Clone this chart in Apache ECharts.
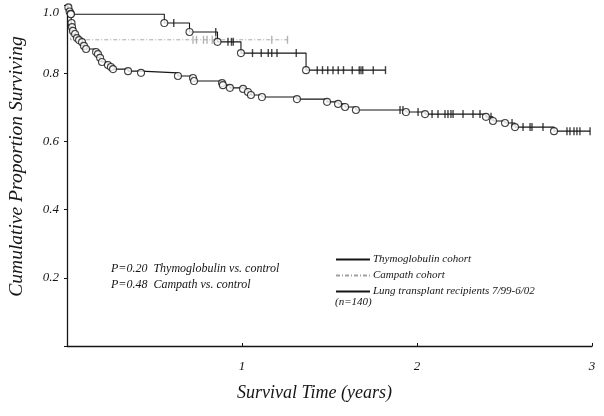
<!DOCTYPE html>
<html>
<head>
<meta charset="utf-8">
<script src="https://cdn.jsdelivr.net/npm/echarts@6/dist/echarts.min.js"></script>
<style>
html,body{margin:0;padding:0;background:#fff;}
#main{width:604px;height:416px;}
</style>
</head>
<body>
<div id="main"></div>
<script>
// ---- Data ----
var xTicks = [1, 2, 3];
var yTicks = [0.2, 0.4, 0.6, 0.8, 1.0];

// Lung transplant recipients 7/99-6/02 (n=140): deaths [time, survival after drop]
var lungDeaths = [
  [0.008, 0.993], [0.015, 0.981], [0.022, 0.974], [0.026, 0.947], [0.029, 0.935],
  [0.034, 0.924], [0.046, 0.915], [0.057, 0.903], [0.069, 0.897], [0.086, 0.891],
  [0.097, 0.880], [0.109, 0.871], [0.166, 0.862], [0.177, 0.856], [0.189, 0.845],
  [0.200, 0.833], [0.234, 0.824], [0.251, 0.818], [0.263, 0.812], [0.349, 0.806],
  [0.423, 0.801], [0.634, 0.792], [0.720, 0.786], [0.726, 0.777], [0.886, 0.771],
  [0.891, 0.765], [0.931, 0.757], [1.006, 0.754], [1.034, 0.745], [1.051, 0.736],
  [1.114, 0.730], [1.314, 0.724], [1.486, 0.716], [1.549, 0.710], [1.589, 0.701],
  [1.651, 0.692], [1.937, 0.686], [2.046, 0.680], [2.394, 0.672], [2.434, 0.660],
  [2.503, 0.654], [2.560, 0.642], [2.783, 0.630]
];
var lungCensored = [1.903, 1.920, 2.006, 2.086, 2.120, 2.160, 2.177, 2.194, 2.206,
  2.263, 2.320, 2.360, 2.423, 2.543, 2.606, 2.646, 2.657, 2.720,
  2.857, 2.874, 2.897, 2.914, 2.931, 2.989];

// Thymoglobulin cohort
var thymoDeaths = [[0.022, 0.973], [0.556, 0.947], [0.700, 0.921], [0.860, 0.892], [0.994, 0.859], [1.366, 0.809]];
var thymoCensored = [0.61, 0.85, 0.92, 0.94, 0.95, 1.06, 1.11, 1.15, 1.17, 1.20, 1.31,
  1.43, 1.46, 1.49, 1.52, 1.55, 1.58, 1.63, 1.67, 1.68, 1.69, 1.75, 1.82];

// Campath cohort
var campathDeaths = [[0.02, 0.898]];
var campathCensored = [0.72, 0.74, 0.78, 0.80, 0.83, 0.85, 1.17, 1.26];

var legendNames = ['Thymoglobulin cohort', 'Campath cohort', 'Lung transplant recipients 7/99-6/02'];
var pTexts = ['P=0.20  Thymoglobulin vs. control', 'P=0.48  Campath vs. control'];
var nText = '(n=140)';

// ---- helpers ----
function survAt(deaths, t) {
  var s = 1;
  for (var i = 0; i < deaths.length; i++) { if (deaths[i][0] <= t) s = deaths[i][1]; }
  return s;
}
function curve(deaths, censored) {
  var pts = [[0, 1]].concat(deaths);
  var last = censored.length ? censored[censored.length - 1] : 0;
  var lastD = deaths[deaths.length - 1][0];
  if (last > lastD) pts.push([last, survAt(deaths, last)]);
  return pts;
}
function censPts(deaths, censored) {
  return censored.map(function (t) { return [t, survAt(deaths, t)]; });
}

var FONT = '"Liberation Serif", "DejaVu Serif", serif';
var black = '#151515';
var gray = '#a0a0a0';

function lineSeries(name, data, color, type, width) {
  return { name: name, type: 'line', step: 'end', data: data, symbol: 'none',
    lineStyle: { color: color, width: width, type: type }, itemStyle: { color: color },
    z: 2, animation: false };
}
function circleSeries(data) {
  return { type: 'scatter', data: data, symbol: 'circle', symbolSize: 7,
    itemStyle: { color: '#fff', borderColor: black, borderWidth: 1.1 }, z: 4, animation: false };
}
function censSeries(data, color) {
  return { type: 'scatter', data: data, symbol: 'rect', symbolSize: [1.4, 8],
    itemStyle: { color: color }, z: 3, animation: false };
}

var chart = echarts.init(document.getElementById('main'), null, { renderer: 'canvas' });
chart.setOption({
  backgroundColor: '#fff',
  animation: false,
  grid: { left: 67, right: 12, top: 5, bottom: 70, containLabel: false, outerBoundsMode: 'none' },
  xAxis: {
    type: 'value', min: 0, max: 3, interval: 1,
    name: 'Survival Time (years)', nameLocation: 'middle', nameGap: 38,
    nameTextStyle: { fontFamily: FONT, fontStyle: 'italic', fontSize: 18, color: black, padding: [0, 30, 0, 0] },
    axisLine: { lineStyle: { color: black, width: 1.3 } },
    axisTick: { inside: true, length: 3, lineStyle: { color: black } },
    axisLabel: { fontFamily: FONT, fontStyle: 'italic', fontSize: 13, color: black, margin: 14,
      formatter: function (v) { return xTicks.indexOf(v) >= 0 ? String(v) : ''; } },
    splitLine: { show: false }
  },
  yAxis: {
    type: 'value', min: 0, max: 1, interval: 0.2,
    name: 'Cumulative Proportion Surviving', nameLocation: 'middle', nameGap: 40,
    nameTextStyle: { fontFamily: FONT, fontStyle: 'italic', fontSize: 19.5, color: black, padding: [0, 0, 0, 18] },
    axisLine: { lineStyle: { color: black, width: 1.3 } },
    axisTick: { length: 3, lineStyle: { color: black } },
    axisLabel: { fontFamily: FONT, fontStyle: 'italic', fontSize: 13, color: black, margin: 8,
      formatter: function (v) {
        var r = Math.round(v * 10) / 10;
        if (yTicks.indexOf(r) < 0) return '';
        return r === 1 ? '{top|' + r.toFixed(1) + '}' : r.toFixed(1);
      },
      rich: { top: { fontFamily: FONT, fontStyle: 'italic', fontSize: 13, color: black, padding: [16, 0, 0, 0] } }
    },
    splitLine: { show: false }
  },
  legend: {
    data: legendNames, orient: 'vertical', left: 330, top: 249,
    itemWidth: 34, itemHeight: 8, itemGap: 5,
    itemStyle: { opacity: 0 },
    textStyle: { fontFamily: FONT, fontStyle: 'italic', fontSize: 11, color: black, padding: [0, 0, 0, -2] },
    selectedMode: false
  },
  title: [
    { text: pTexts[0] + '\n' + pTexts[1], left: 106, top: 256,
      textStyle: { fontFamily: FONT, fontStyle: 'italic', fontWeight: 'normal', fontSize: 12, color: black, lineHeight: 16 } },
    { text: nText, left: 330, top: 292,
      textStyle: { fontFamily: FONT, fontStyle: 'italic', fontWeight: 'normal', fontSize: 11, color: black } }
  ],
  series: [
    lineSeries(legendNames[2], curve(lungDeaths, lungCensored), black, 'solid', 1.1),
    circleSeries(lungDeaths),
    censSeries(censPts(lungDeaths, lungCensored), black),
    lineSeries(legendNames[0], curve(thymoDeaths, thymoCensored), black, 'solid', 1.1),
    circleSeries(thymoDeaths),
    censSeries(censPts(thymoDeaths, thymoCensored), black),
    lineSeries(legendNames[1], curve(campathDeaths, campathCensored), gray, [4, 2, 1, 2], 0.9),
    censSeries(censPts(campathDeaths, campathCensored), gray)
  ]
});
</script>
</body>
</html>
